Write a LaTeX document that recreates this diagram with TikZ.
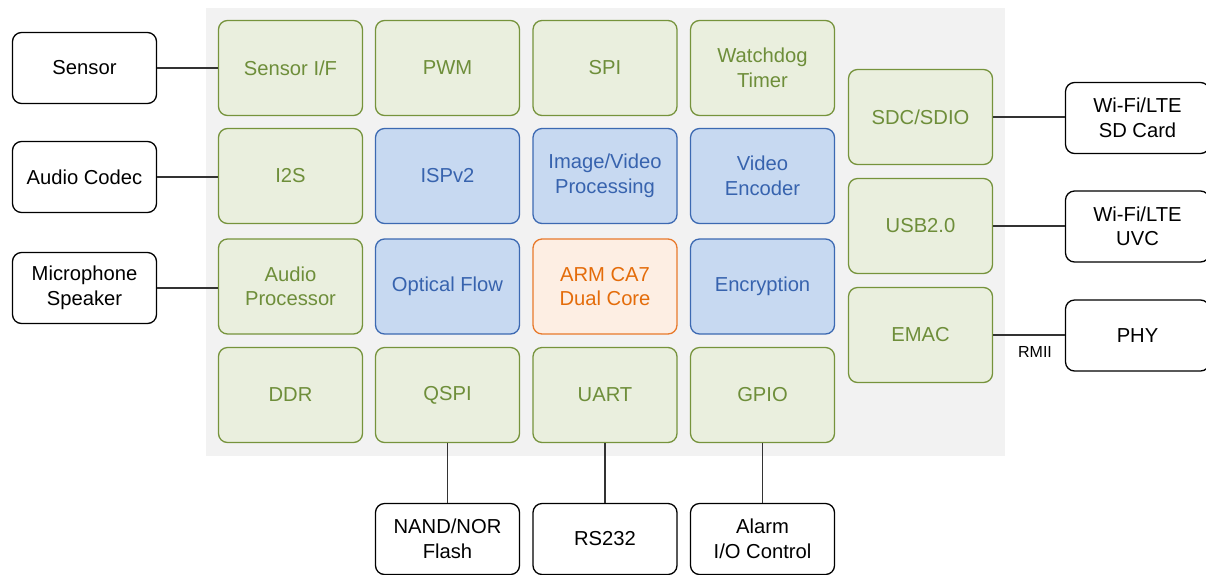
\documentclass[tikz,border=0pt]{standalone}
\usepackage{fontspec}
\setmainfont{Liberation Sans}
\definecolor{bggray}{HTML}{F2F2F2}
\definecolor{gfill}{HTML}{EAEFDE}
\definecolor{gdraw}{HTML}{76933C}
\definecolor{gtext}{HTML}{6E8E3A}
\definecolor{bfill}{HTML}{C7D9F1}
\definecolor{bdraw}{HTML}{3C69B2}
\definecolor{btext}{HTML}{3763AE}
\definecolor{ofill}{HTML}{FDEEE3}
\definecolor{odraw}{HTML}{E87A2C}
\definecolor{otext}{HTML}{E46C0A}
\definecolor{conn}{HTML}{333333}
\tikzset{
  blk/.style={rounded corners=9pt, line width=1.3pt, minimum width=144pt, minimum height=95pt, align=center, inner sep=0pt, font=\fontsize{20.2}{24.5}\selectfont},
  gblk/.style={blk, fill=gfill, draw=gdraw, text=gtext},
  bblk/.style={blk, fill=bfill, draw=bdraw, text=btext},
  oblk/.style={blk, fill=ofill, draw=odraw, text=otext},
  ext/.style={rounded corners=9pt, line width=1.3pt, draw=black, fill=white, minimum width=144pt, minimum height=71pt, align=center, inner sep=0pt, font=\fontsize{20.2}{24.5}\selectfont},
  wire/.style={line width=1.4pt, draw=conn}
}
\begin{document}
\begin{tikzpicture}[x=1pt,y=-1pt]
\useasboundingbox (0,0) rectangle (1206,574);
\fill[bggray] (206,8) rectangle (1005,456);
% grid
\node[gblk] (sif) at (290.5,68) {Sensor I/F};
\node[gblk] (pwm) at (447.5,68) {PWM};
\node[gblk] (spi) at (605,68) {SPI};
\node[gblk] (wdt) at (762.5,68) {Watchdog\\Timer};
\node[gblk] (i2s) at (290.5,176) {I2S};
\node[bblk] (isp) at (447.5,176) {ISPv2};
\node[bblk] (ivp) at (605,176) {Image/Video\\Processing};
\node[bblk] (venc) at (762.5,176) {Video\\Encoder};
\node[gblk] (aproc) at (290.5,286.5) {Audio\\Processor};
\node[bblk] (oflow) at (447.5,286.5) {Optical Flow};
\node[oblk] (arm) at (605,286.5) {ARM CA7\\Dual Core};
\node[bblk] (enc) at (762.5,286.5) {Encryption};
\node[gblk] (ddr) at (290.5,395) {DDR};
\node[gblk] (qspi) at (447.5,395) {QSPI};
\node[gblk] (uart) at (605,395) {UART};
\node[gblk] (gpio) at (762.5,395) {GPIO};
\node[gblk] (sdc) at (920.5,117) {SDC/SDIO};
\node[gblk] (usb) at (920.5,226) {USB2.0};
\node[gblk] (emac) at (920.5,335) {EMAC};
% externals
\node[ext] (sensor) at (84.5,68) {Sensor};
\node[ext] (codec) at (84.5,177) {Audio Codec};
\node[ext] (mic) at (84.5,288) {Microphone\\Speaker};
\node[ext] (sdcard) at (1137.5,118) {Wi-Fi/LTE\\SD Card};
\node[ext] (uvc) at (1137.5,226.5) {Wi-Fi/LTE\\UVC};
\node[ext] (phy) at (1137.5,335.5) {PHY};
\node[ext] (flash) at (447.5,539) {NAND/NOR\\Flash};
\node[ext] (rs) at (605,539) {RS232};
\node[ext] (alarm) at (762.5,539) {Alarm\\I/O Control};
% connectors
\draw[wire] (sensor.east) -- (sensor.east -| sif.west);
\draw[wire] (codec.east) -- (codec.east -| i2s.west);
\draw[wire] (mic.east) -- (mic.east -| aproc.west);
\draw[wire] (sdc.east) -- (sdc.east -| sdcard.west);
\draw[wire] (usb.east) -- (usb.east -| uvc.west);
\draw[wire] (emac.east) -- (emac.east -| phy.west);
\draw[wire] (qspi.south) -- (flash.north);
\draw[wire] (uart.south) -- (rs.north);
\draw[wire] (gpio.south) -- (alarm.north);
\node[font=\fontsize{16}{18}\selectfont, inner sep=0pt] (rmii) at (1035,352) {RMII};
\end{tikzpicture}
\end{document}
